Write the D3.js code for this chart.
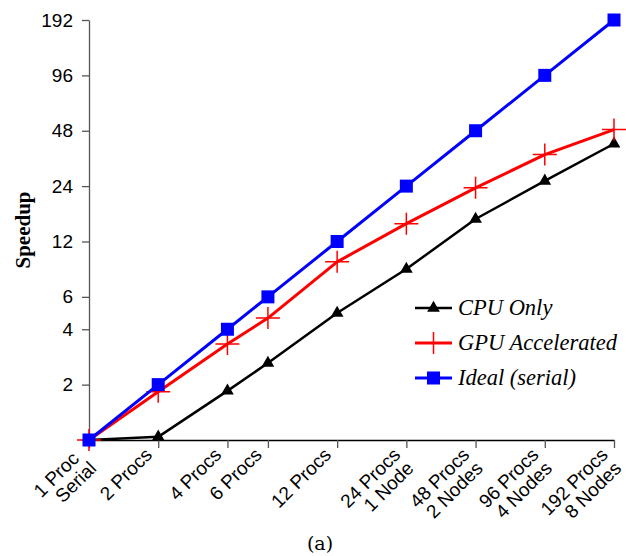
<!DOCTYPE html>
<html lang="en">
<head>
<meta charset="UTF-8">
<title>Speedup</title>
<script src="https://d3js.org/d3.v7.min.js"></script>
<style>
    body { margin: 0; padding: 0; background: #fff; }
    svg { display: block; }
</style>
</head>
<body>
<svg width="626" height="556"></svg>
<script>
    // data
    const procs = [1, 2, 4, 6, 12, 24, 48, 96, 192];
    const xLabels = [["1 Proc\u00a0", "Serial"], ["2 Procs"], ["4 Procs"], ["6 Procs"], ["12 Procs"],
        ["24 Procs", "1 Node"], ["48 Procs", "2 Nodes"], ["96 Procs", "4 Nodes"], ["192 Procs", "8 Nodes"]];
    const cpuOnly = [1, 1.04, 1.85, 2.62, 4.9, 8.5, 15.9, 25.6, 40.8];
    const gpuAccel = [1, 1.83, 3.33, 4.6, 9.3, 15.0, 23.5, 35.6, 48.7];
    const ideal = [1, 2, 4, 6, 12, 24, 48, 96, 192];
    const yTicks = [2, 4, 6, 12, 24, 48, 96, 192];

    const svg = d3.select("svg");

    const x = d3.scaleLog().base(2).domain([1, 192]).range([89, 614]);
    const y = d3.scaleLog().base(2).domain([1, 192]).range([440, 20]);

    // y axis
    const yAxis = svg.append("g")
        .attr("transform", "translate(89,0)")
        .call(d3.axisLeft(y).tickValues([1].concat(yTicks)).tickFormat(d => d === 1 ? "" : d).tickSize(7).tickSizeOuter(0));
    yAxis.select(".domain").attr("stroke", "#555").attr("stroke-width", 1.3);
    yAxis.selectAll(".tick line").attr("stroke", "#555").attr("stroke-width", 1.3);
    yAxis.selectAll(".tick text")
        .attr("font-family", "Liberation Sans, Arial, sans-serif")
        .attr("font-size", 19)
        .attr("fill", "#000")
        .attr("x", -16);

    // x axis
    const xAxis = svg.append("g")
        .attr("transform", "translate(0,440)")
        .call(d3.axisBottom(x).tickValues(procs).tickFormat("").tickSize(8).tickSizeOuter(0));
    xAxis.select(".domain").attr("stroke", "#000").attr("stroke-width", 1.3);
    xAxis.selectAll(".tick line").attr("stroke", "#555").attr("stroke-width", 1.3);

    const xl = svg.append("g").selectAll("text")
        .data(procs)
        .join("text")
        .attr("transform", d => `translate(${x(d) - 5},${456}) rotate(-45)`)
        .attr("text-anchor", "end")
        .attr("font-family", "Liberation Sans, Arial, sans-serif")
        .attr("font-size", 19)
        .attr("fill", "#000");
    xl.each(function(d, i) {
        const t = d3.select(this);
        xLabels[i].forEach((s, j) => {
            t.append("tspan").attr("x", 0).attr("dy", j === 0 ? 0 : 19).text(s);
        });
    });

    // y label
    svg.append("text")
        .attr("transform", "translate(30,230) rotate(-90)")
        .attr("text-anchor", "middle")
        .attr("font-family", "Liberation Serif, Times New Roman, serif")
        .attr("font-weight", "bold")
        .attr("font-size", 21)
        .text("Speedup");

    const line = d3.line().x((d, i) => x(procs[i])).y(d => y(d));

    const series = [
        { name: "CPU Only", values: cpuOnly, color: "#000", width: 2.5, marker: "tri" },
        { name: "GPU Accelerated", values: gpuAccel, color: "#f00", width: 3, marker: "cross" },
        { name: "Ideal (serial)", values: ideal, color: "#00f", width: 3, marker: "sq" }
    ];

    function drawMarker(g, type, color) {
        if (type === "tri") {
            g.append("path").attr("d", d3.symbol(d3.symbolTriangle, 70)()).attr("fill", color);
        } else if (type === "sq") {
            g.append("rect").attr("x", -6.5).attr("y", -6.5).attr("width", 13).attr("height", 13).attr("fill", color);
        } else {
            g.append("path").attr("d", "M-12,0H12M0,-11V11").attr("stroke", color).attr("stroke-width", 1.5);
        }
    }

    series.forEach(s => {
        svg.append("path")
            .datum(s.values)
            .attr("d", line)
            .attr("fill", "none")
            .attr("stroke", s.color)
            .attr("stroke-width", s.width)
            .attr("stroke-linejoin", "round");
        s.values.forEach((v, i) => {
            const g = svg.append("g").attr("transform", `translate(${x(procs[i])},${y(v)})`);
            drawMarker(g, s.marker, s.color);
        });
    });

    // legend
    const legend = svg.append("g");
    series.forEach((s, i) => {
        const ly = 308 + i * 35;
        legend.append("line")
            .attr("x1", 415).attr("x2", 452).attr("y1", ly).attr("y2", ly)
            .attr("stroke", s.color).attr("stroke-width", s.width);
        const g = legend.append("g").attr("transform", `translate(433.5,${ly})`);
        drawMarker(g, s.marker, s.color);
        legend.append("text")
            .attr("x", 458).attr("y", ly + 7)
            .attr("font-family", "Liberation Serif, Times New Roman, serif")
            .attr("font-style", "italic")
            .attr("font-size", 22.5)
            .text(s.name);
    });

    // caption
    svg.append("text")
        .attr("x", 320).attr("y", 550)
        .attr("text-anchor", "middle")
        .attr("font-family", "DejaVu Serif, serif")
        .attr("font-size", 19)
        .text("(a)");
</script>
</body>
</html>
